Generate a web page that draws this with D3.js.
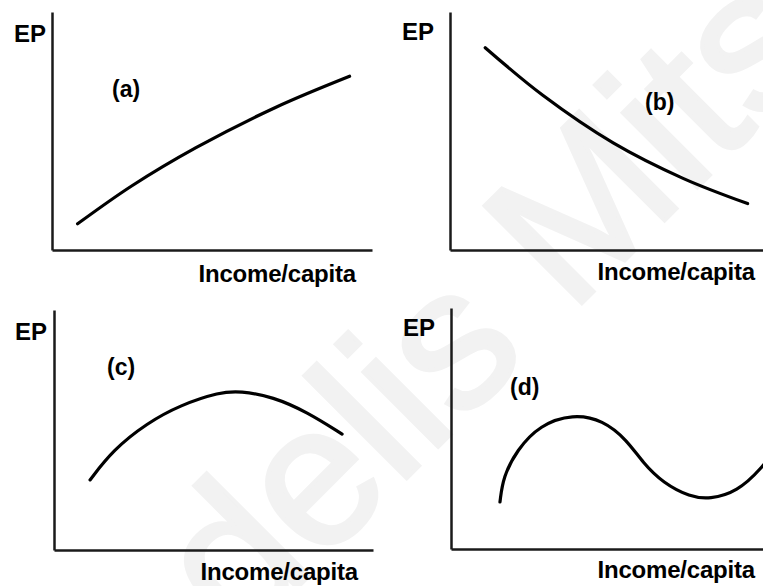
<!DOCTYPE html>
<html>
<head>
<meta charset="utf-8">
<script src="https://cdn.jsdelivr.net/npm/d3@7"></script>
<style>
  html, body { margin: 0; padding: 0; background: #fff; }
  text { font-family: "Liberation Sans", Arial, Helvetica, sans-serif; font-weight: bold; }
</style>
</head>
<body>
<svg id="chart" width="763" height="586"></svg>
<script>
// conceptual curves, EP vs income per capita, on a 0-10 by 0-10 grid
var curveA = [
  { x: 0.8, y: 1.1 }, { x: 2.5, y: 2.7 }, { x: 4.5, y: 4.3 },
  { x: 7.0, y: 6.0 }, { x: 9.3, y: 7.3 }
];
var curveB = [
  { x: 1.1, y: 8.5 }, { x: 2.9, y: 6.5 }, { x: 5.1, y: 4.5 },
  { x: 7.3, y: 3.0 }, { x: 9.3, y: 1.95 }
];
var curveC = [
  { x: 1.13, y: 2.92 }, { x: 1.85, y: 4.17 }, { x: 2.92, y: 5.29 },
  { x: 3.96, y: 6.04 }, { x: 5.2, y: 6.58 }, { x: 5.83, y: 6.63 },
  { x: 6.87, y: 6.38 }, { x: 7.93, y: 5.75 }, { x: 9.03, y: 4.83 }
];
var curveD = [
  { x: 1.53, y: 1.95 }, { x: 1.63, y: 2.99 }, { x: 2.06, y: 4.11 },
  { x: 2.78, y: 5.15 }, { x: 3.81, y: 5.6 }, { x: 4.75, y: 5.35 },
  { x: 5.5, y: 4.52 }, { x: 6.0, y: 3.57 }, { x: 6.63, y: 2.74 },
  { x: 7.47, y: 2.16 }, { x: 8.09, y: 2.07 }, { x: 8.94, y: 2.37 },
  { x: 9.72, y: 3.36 }, { x: 10.1, y: 4.1 }
];
var panelNames = ["(a)", "(b)", "(c)", "(d)"];
var yLabel = "EP";
var xLabel = "Income/capita";
var watermark = "delis Mits";

var curves = [curveA, curveB, curveC, curveD];

// where each little plot sits on the page
var layout = [
  { left: 52,  right: 372, top: 12,  bottom: 250, ep: [46, 42],  name: [112, 97],  inc: [356, 282] },
  { left: 450, right: 770, top: 12,  bottom: 250, ep: [434, 40], name: [645, 110], inc: [755, 280] },
  { left: 54,  right: 373, top: 310, bottom: 550, ep: [47, 340], name: [107, 375], inc: [358, 580] },
  { left: 451, right: 771, top: 308, bottom: 549, ep: [435, 336], name: [510, 395], inc: [755, 578] }
];
// a & b are gentle, c & d have dense hand-read points so smooth them with a b-spline
var smoothing = [d3.curveCatmullRom.alpha(0.5), d3.curveCatmullRom.alpha(0.5), d3.curveBasis, d3.curveBasis];

var svg = d3.select("#chart");

// faint diagonal watermark behind everything
svg.append("text")
  .attr("transform", "translate(240,645) rotate(-45)")
  .attr("font-size", 200)
  .style("font-weight", "normal")
  .attr("fill", "#f2f2f2")
  .attr("stroke", "#f2f2f2")
  .attr("stroke-width", 4)
  .text(watermark);

curves.forEach(function(data, i) {
  var p = layout[i];
  var x = d3.scaleLinear().domain([0, 10]).range([p.left, p.right]);
  var y = d3.scaleLinear().domain([0, 10]).range([p.bottom, p.top]);
  var g = svg.append("g");

  // axes: just the two lines, no ticks
  g.append("g")
    .attr("transform", "translate(0," + p.bottom + ")")
    .call(d3.axisBottom(x).tickValues([]).tickSizeOuter(0));
  g.append("g")
    .attr("transform", "translate(" + p.left + ",0)")
    .call(d3.axisLeft(y).tickValues([]).tickSizeOuter(0));
  g.selectAll(".domain")
    .attr("stroke", "#1a1a1a")
    .attr("stroke-width", 2.5);

  var line = d3.line()
    .x(function(d) { return x(d.x); })
    .y(function(d) { return y(d.y); })
    .curve(smoothing[i]);

  g.append("path")
    .attr("d", line(data))
    .attr("fill", "none")
    .attr("stroke", "#000")
    .attr("stroke-width", 3.2)
    .attr("stroke-linecap", "round");

  g.append("text")
    .attr("x", p.ep[0]).attr("y", p.ep[1])
    .attr("text-anchor", "end")
    .attr("font-size", 24)
    .text(yLabel);

  g.append("text")
    .attr("x", p.name[0]).attr("y", p.name[1])
    .attr("font-size", 23)
    .text(panelNames[i]);

  g.append("text")
    .attr("x", p.inc[0]).attr("y", p.inc[1])
    .attr("text-anchor", "end")
    .attr("font-size", 24)
    .attr("letter-spacing", -0.2)
    .text(xLabel);
});
</script>
</body>
</html>
